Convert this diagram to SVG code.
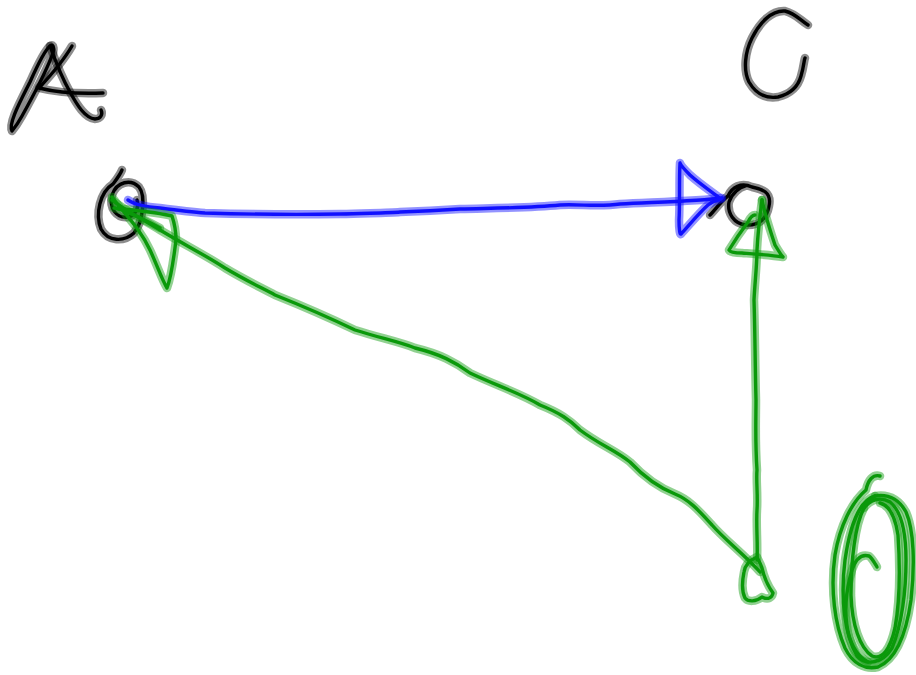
<svg xmlns="http://www.w3.org/2000/svg" xmlns:xlink="http://www.w3.org/1999/xlink" width="916" height="675" viewBox="0 0 916 675">
<style>
path{fill:none;stroke-linecap:round;stroke-linejoin:round}
.halo{stroke-width:8.5;stroke-opacity:0.45}
.core{stroke-width:3.4}
.k{stroke:#000}
.b{stroke:#1010ff}
.g{stroke:#0a990a}
</style>
<defs>
<path id="a1" d="M12,131 C8,124 20,102 30,82 C38,64 45,50 50,46 C54,43 55,50 51,58 C44,76 32,98 22,116 C17,125 12,131 12,131"/>
<path id="a2" d="M50,46 C55,60 62,78 70,92 C77,105 85,118 95,119 C101,119 103,114 101,110"/>
<path id="a3" d="M72,46 C65,58 52,74 39,88 C55,92 80,94 103,93"/>
<path id="c1" d="M808,25 C800,20 796,14 785,11 C772,10 760,22 752,38 C745,52 743,70 749,82 C756,94 765,99 778,97 C790,94 798,87 801,76 C804,66 804,60 805,58"/>
<path id="na" d="M122,170 C120,175 116,180 113,184 C100,192 95,214 101,229 C108,242 124,242 134,233 C143,222 146,196 139,187 C131,179 117,181 112,195 C109,208 116,219 129,217 C137,214 139,206 137,200"/>
<path id="nc" d="M710,215 C715,210 722,200 728,196 C732,187 741,182 752,187 C762,189 772,192 769,206 C767,218 759,226 746,225 C734,224 727,213 729,202 C732,193 740,187 745,186"/>
<path id="blue" d="M128,200 C135,205 145,207 160,208 C175,210 190,212 205,213 C240,214 280,215 340,214 C370,213 390,213 400,212 C430,211 445,210 460,209 C500,208 530,208 560,205 C580,204 600,207 620,204 C660,202 700,201 722,198"/>
<path id="barr" d="M680,163 C679,180 680,205 679,220 C679,230 680,235 681,234 C690,224 700,212 708,205 C712,202 716,200 721,199 C712,192 700,184 690,175 C685,170 681,166 680,163"/>
<path id="gdiag" d="M112,200 C125,210 140,218 160,230 C185,245 205,255 225,268 C245,280 260,287 275,295 C300,305 330,318 355,330 C380,338 400,342 415,348 C440,354 455,362 470,373 C495,385 520,393 540,405 C560,413 570,420 580,430 C600,445 615,450 630,462 C645,478 660,488 675,494 C690,500 700,512 712,525 C725,540 745,555 760,572"/>
<path id="garrA" d="M112,197 C125,215 140,228 150,250 C157,265 162,280 167,288 C172,275 174,255 176,240 C176,230 174,222 172,216 C155,212 130,210 114,208 C125,210 145,220 160,228"/>
<path id="gvert" d="M757,560 C758,545 756,525 757,510 C758,495 756,480 757,470 C755,440 756,420 756,400 C755,360 755,330 754,300 C755,280 757,265 757,250 C758,230 760,215 762,200"/>
<path id="garrC" d="M762,200 C765,215 770,230 775,245 C778,250 782,256 783,257 C770,255 755,254 742,253 C735,253 730,252 729,250 C735,240 742,230 748,222 C750,218 753,215 755,215"/>
<path id="nd" d="M757,557 C750,560 745,565 744,572 C742,582 742,592 745,598 C748,602 756,602 762,597 C768,600 772,598 773,593 C768,586 764,577 762,568 C760,562 757,558 757,557"/>
<path id="ov1" d="M880,476 C873,474 868,480 866,490 C852,502 840,525 835,555 C830,590 835,625 845,648 C853,664 865,670 878,667 C895,660 906,635 911,600 C915,565 914,530 906,512 C898,498 888,494 875,496"/>
<path id="ov2" d="M875,496 C860,500 850,525 845,560 C840,600 845,635 857,656 C866,666 882,664 892,648 C902,625 906,590 906,560 C906,530 900,510 890,502 C880,496 870,500 864,508"/>
<path id="ov3" d="M864,508 C855,525 851,560 851,595 C852,625 860,648 872,656 C882,660 890,650 895,628 C900,600 900,565 898,535 C895,515 888,505 880,503"/>
<path id="ov4" d="M877,567 C874,562 872,558 869,556 C862,554 856,558 852,570 C846,590 844,612 848,632 C852,648 860,658 868,662"/>
</defs>

<g id="node-A">
<use xlink:href="#a1" class="halo k"/><use xlink:href="#a1" class="core k"/>
<use xlink:href="#a2" class="halo k"/><use xlink:href="#a2" class="core k"/>
<use xlink:href="#a3" class="halo k"/><use xlink:href="#a3" class="core k"/>
<use xlink:href="#na" class="halo k"/><use xlink:href="#na" class="core k"/>
</g>
<g id="node-C">
<use xlink:href="#c1" class="halo k"/><use xlink:href="#c1" class="core k"/>
<use xlink:href="#nc" class="halo k"/><use xlink:href="#nc" class="core k"/>
</g>
<g id="connectors">
<use xlink:href="#blue" class="halo b"/><use xlink:href="#blue" class="core b"/>
<use xlink:href="#barr" class="halo b"/><use xlink:href="#barr" class="core b"/>
<use xlink:href="#gdiag" class="halo g"/><use xlink:href="#gdiag" class="core g"/>
<use xlink:href="#garrA" class="halo g"/><use xlink:href="#garrA" class="core g"/>
<use xlink:href="#gvert" class="halo g"/><use xlink:href="#gvert" class="core g"/>
<use xlink:href="#garrC" class="halo g"/><use xlink:href="#garrC" class="core g"/>
</g>
<g id="node-D">
<use xlink:href="#nd" class="halo g"/><use xlink:href="#nd" class="core g"/>
</g>
<g id="node-O">
<use xlink:href="#ov1" class="halo g"/><use xlink:href="#ov1" class="core g"/>
<use xlink:href="#ov2" class="halo g"/><use xlink:href="#ov2" class="core g"/>
<use xlink:href="#ov3" class="halo g"/><use xlink:href="#ov3" class="core g"/>
<use xlink:href="#ov4" class="halo g"/><use xlink:href="#ov4" class="core g"/>
</g>
</svg>
